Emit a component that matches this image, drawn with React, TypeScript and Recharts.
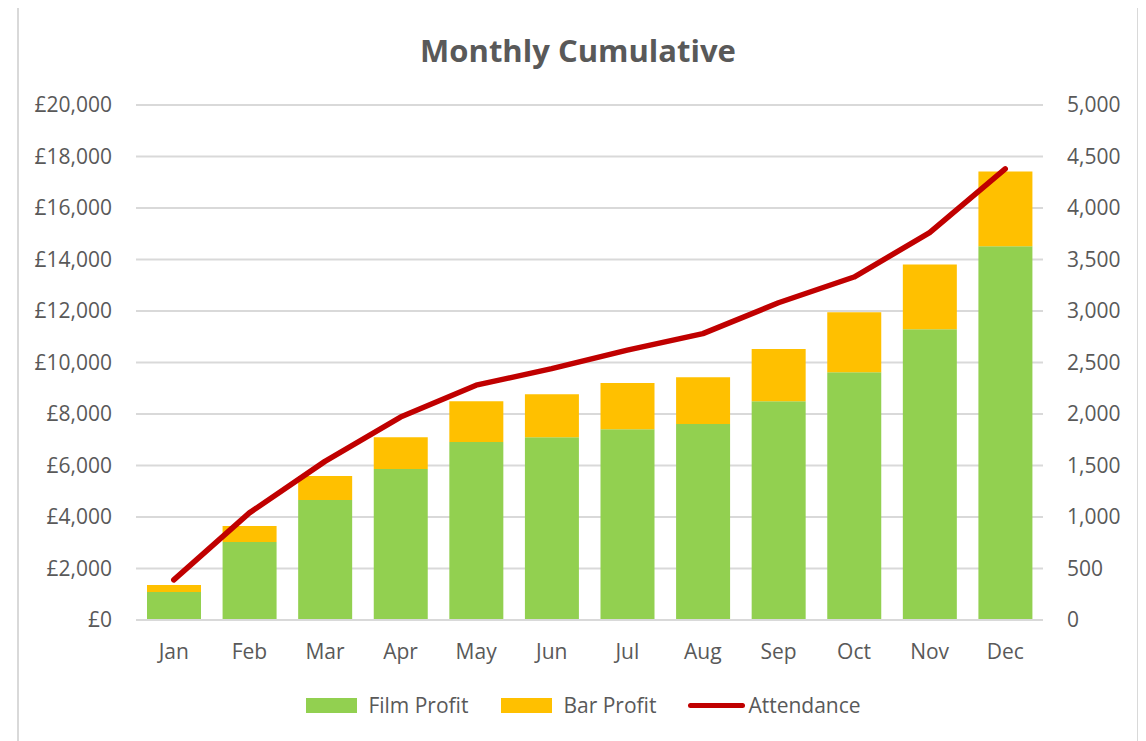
import React from 'react';
import {
  ComposedChart,
  Bar,
  Line,
  XAxis,
  YAxis,
  CartesianGrid,
} from 'recharts';

const months = ['Jan', 'Feb', 'Mar', 'Apr', 'May', 'Jun', 'Jul', 'Aug', 'Sep', 'Oct', 'Nov', 'Dec'];
const filmProfit = [1090, 3030, 4660, 5860, 6910, 7100, 7410, 7610, 8500, 9620, 11290, 14510];
const barProfit = [270, 620, 930, 1240, 1590, 1670, 1790, 1820, 2020, 2330, 2520, 2910];
const attendance = [390, 1040, 1540, 1970, 2280, 2440, 2620, 2780, 3080, 3330, 3760, 4380];

const leftTicks = [0, 2000, 4000, 6000, 8000, 10000, 12000, 14000, 16000, 18000, 20000];
const rightTicks = [0, 500, 1000, 1500, 2000, 2500, 3000, 3500, 4000, 4500, 5000];

const data = months.map((m, i) => ({
  month: m,
  film: filmProfit[i],
  bar: barProfit[i],
  attendance: attendance[i],
}));

const FONT = '"Open Sans", sans-serif';
const TEXT = '#595959';
const GRID = '#d9d9d9';
const GREEN = '#92D050';
const ORANGE = '#FFC000';
const RED = '#C00000';

const fmtPounds = (v: number) => '£' + v.toLocaleString('en-GB');
const fmtNum = (v: number) => v.toLocaleString('en-GB');

const tickStyle = { fill: TEXT, fontSize: 21, fontFamily: FONT };

const LegendBox = () => (
  <div
    style={{
      position: 'absolute',
      left: 0,
      right: 0,
      top: 684,
      height: 28,
      display: 'flex',
      justifyContent: 'center',
      alignItems: 'center',
      paddingLeft: 11,
      fontFamily: FONT,
      fontSize: 21,
      color: TEXT,
    }}
  >
    <span style={{ width: 51, height: 15, background: GREEN, display: 'inline-block' }} />
    <span style={{ marginLeft: 11, marginRight: 33 }}>Film Profit</span>
    <span style={{ width: 51, height: 15, background: ORANGE, display: 'inline-block' }} />
    <span style={{ marginLeft: 11, marginRight: 32 }}>Bar Profit</span>
    <span style={{ width: 57, height: 5, background: RED, borderRadius: 3, display: 'inline-block' }} />
    <span style={{ marginLeft: 3 }}>Attendance</span>
  </div>
);

export default function App() {
  return (
    <div
      style={{
        position: 'relative',
        width: 1122,
        height: 745,
        marginLeft: 9,
        marginTop: -3,
        border: `2px solid ${GRID}`,
        boxSizing: 'border-box',
        background: '#fff',
      }}
    >
      <div
        style={{
          position: 'absolute',
          top: 28,
          left: 0,
          right: 0,
          textAlign: 'center',
          fontFamily: FONT,
          fontWeight: 700,
          fontSize: 31,
          lineHeight: '31px',
          color: TEXT,
        }}
      >
        Monthly Cumulative
      </div>
      <div style={{ position: 'absolute', top: 0, left: 0 }}>
        <ComposedChart
          width={1118}
          height={734}
          data={data}
          margin={{ top: 98, right: 14, bottom: 81, left: 17 }}
          barCategoryGap={0}
        >
          <CartesianGrid yAxisId="left" vertical={false} stroke={GRID} strokeWidth={2} />
          <XAxis
            dataKey="month"
            height={40}
            tickLine={false}
            tickSize={0}
            tickMargin={24}
            axisLine={{ stroke: GRID, strokeWidth: 2 }}
            tick={tickStyle}
          />
          <YAxis
            yAxisId="left"
            orientation="left"
            width={100}
            domain={[0, 20000]}
            ticks={leftTicks}
            tickFormatter={fmtPounds}
            axisLine={false}
            tickLine={false}
            tickSize={0}
            tickMargin={24}
            tick={tickStyle}
            interval={0}
          />
          <YAxis
            yAxisId="right"
            orientation="right"
            width={80}
            domain={[0, 5000]}
            ticks={rightTicks}
            tickFormatter={fmtNum}
            axisLine={false}
            tickLine={false}
            tickSize={0}
            tickMargin={24}
            tick={{ ...tickStyle, textAnchor: 'start' }}
            interval={0}
          />
          <Bar
            yAxisId="left"
            dataKey="film"
            name="Film Profit"
            stackId="profit"
            fill={GREEN}
            barSize={54}
            isAnimationActive={false}
          />
          <Bar
            yAxisId="left"
            dataKey="bar"
            name="Bar Profit"
            stackId="profit"
            fill={ORANGE}
            barSize={54}
            isAnimationActive={false}
          />
          <Line
            yAxisId="right"
            dataKey="attendance"
            name="Attendance"
            type="linear"
            stroke={RED}
            strokeWidth={5.5}
            strokeLinecap="round"
            strokeLinejoin="round"
            dot={false}
            activeDot={false}
            isAnimationActive={false}
          />
        </ComposedChart>
      </div>
      <LegendBox />
    </div>
  );
}
